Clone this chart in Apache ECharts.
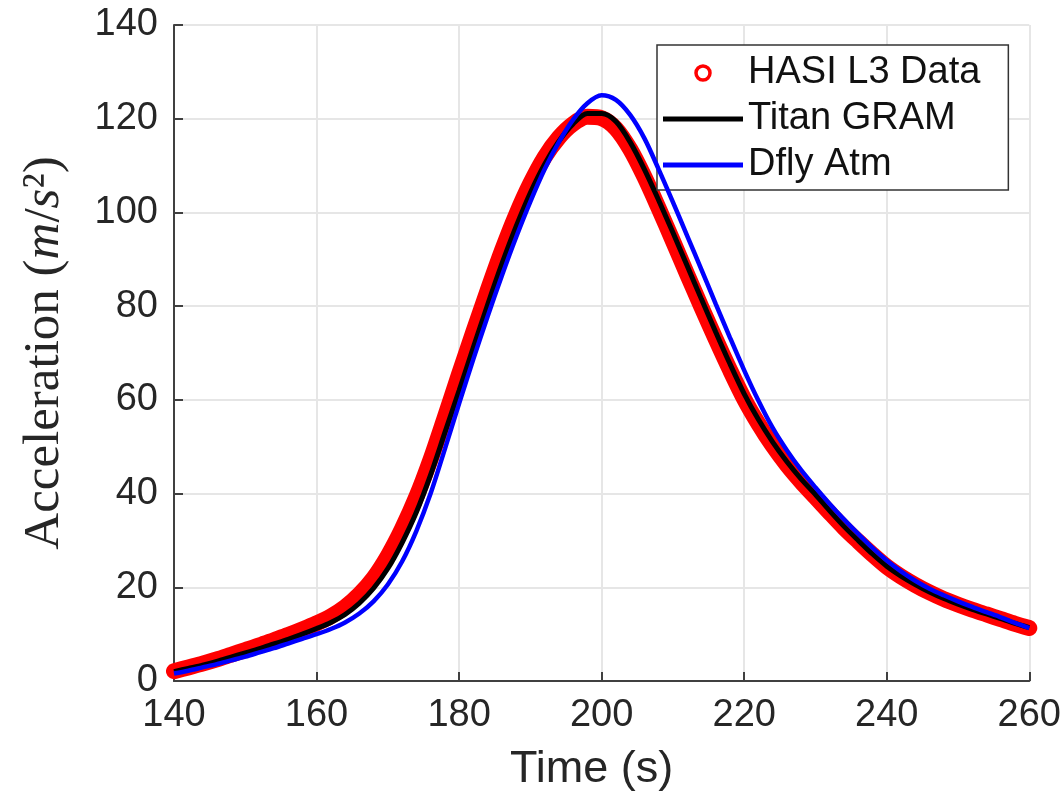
<!DOCTYPE html>
<html>
<head>
<meta charset="utf-8">
<style>
  html, body { margin: 0; padding: 0; background: #ffffff; }
  #chart { width: 1064px; height: 802px; }
</style>
<script src="https://cdn.jsdelivr.net/npm/echarts@6/dist/echarts.min.js"></script>
</head>
<body>
<div id="chart"></div>
<script>
// ---- data (every 2 s) ----
const timeS = [140,142,144,146,148,150,152,154,156,158,160,162,164,166,168,170,172,174,176,178,180,182,184,186,188,190,192,194,196,198,200,202,204,206,208,210,212,214,216,218,220,222,224,226,228,230,232,234,236,238,240,242,244,246,248,250,252,254,256,258,260];

const hasiAccel = [2.1,2.9,3.7,4.6,5.6,6.6,7.6,8.7,9.8,11.0,12.3,13.8,15.8,18.5,22.0,26.7,32.5,39.3,47.3,56.3,65.5,74.5,83.3,91.8,99.5,106.2,111.8,116.0,118.9,120.4,120.1,117.9,113.5,107.6,100.9,93.9,86.8,79.8,73.0,66.4,60.2,54.9,50.2,46.1,42.5,39.2,35.9,32.7,29.8,27.0,24.4,22.3,20.5,18.9,17.5,16.3,15.2,14.2,13.2,12.2,11.3];

const gramAccel = [2.0,2.7,3.4,4.2,5.1,6.0,6.9,7.9,8.9,10.0,11.2,12.5,14.2,16.6,19.8,24.0,29.5,36.0,44.0,53.0,62.0,71.2,80.3,89.0,97.0,104.2,110.3,115.2,118.9,121.1,121.1,119.4,115.0,109.2,102.6,95.7,88.6,81.5,74.5,67.7,61.3,55.8,51.0,46.8,43.1,39.8,36.3,33.0,30.0,27.1,24.5,22.4,20.6,19.0,17.6,16.4,15.3,14.3,13.3,12.3,11.4];

const dflyAccel = [1.6,2.2,2.9,3.6,4.4,5.2,6.1,7.0,8.0,9.0,10.0,11.1,12.5,14.4,17.0,20.6,25.5,32.0,40.0,49.5,59.2,68.7,77.8,86.5,94.7,102.3,109.2,115.0,119.8,123.3,125.0,124.0,120.8,115.8,109.2,102.2,95.0,87.8,80.5,73.3,66.3,59.8,54.0,49.2,45.0,41.3,37.8,34.5,31.4,28.4,25.7,23.4,21.4,19.7,18.3,17.0,15.8,14.7,13.6,12.4,11.3];

const seriesNames = ['HASI L3 Data', 'Titan GRAM', 'Dfly Atm'];
const xTicks = { min: 140, max: 260, step: 20 };
const yTicks = { min: 0, max: 140, step: 20 };

function pairs(xs, ys) { return xs.map((x, i) => [x, ys[i]]); }

const tickFont = 'Liberation Sans, Arial, Helvetica, sans-serif';
const serifFont = 'Liberation Serif, Times New Roman, serif';
const darkText = '#262626';
const legendLine = 'path://M0,0 L80,0 L80,5 L0,5 Z';

const chart = echarts.init(document.getElementById('chart'), null, { renderer: 'canvas' });
chart.setOption({
  animation: false,
  backgroundColor: '#ffffff',
  grid: { left: 174, right: 34, top: 25, bottom: 121, containLabel: false },
  legend: {
    orient: 'vertical',
    left: 657, top: 45,
    padding: [5, 28, 2, 6],
    itemWidth: 80, itemHeight: 14, itemGap: 0,
    backgroundColor: '#ffffff',
    borderColor: '#333333', borderWidth: 1.5, borderRadius: 0,
    textStyle: { fontFamily: tickFont, fontSize: 38, color: '#111111', lineHeight: 46 },
    data: [
      { name: seriesNames[0], icon: 'circle',
        itemStyle: { color: '#ffffff', borderColor: '#ff0000', borderWidth: 3.5 } },
      { name: seriesNames[1], icon: legendLine, itemStyle: { color: '#000000', borderWidth: 0 } },
      { name: seriesNames[2], icon: legendLine, itemStyle: { color: '#0000ff', borderWidth: 0 } }
    ]
  },
  xAxis: {
    type: 'value', min: xTicks.min, max: xTicks.max, interval: xTicks.step,
    name: 'Time (s)', nameLocation: 'middle', nameGap: 66,
    nameTextStyle: { fontFamily: tickFont, fontSize: 45, color: darkText, padding: [0, 20, 0, 0] },
    axisLine: { show: true, onZero: false, lineStyle: { color: '#404040', width: 2 } },
    axisTick: { show: true, inside: true, length: 9, lineStyle: { color: '#404040', width: 2 } },
    axisLabel: { fontFamily: tickFont, fontSize: 38, color: darkText, margin: 16 },
    splitLine: { show: true, lineStyle: { color: '#e6e6e6', width: 2 } }
  },
  yAxis: {
    type: 'value', min: yTicks.min, max: yTicks.max, interval: yTicks.step,
    name: '{n|Acceleration (}{i|m}{n|/}{i|s}{n|²)}',
    nameLocation: 'middle', nameGap: 104, nameRotate: 90,
    nameTextStyle: {
      rich: {
        n: { fontFamily: serifFont, fontSize: 51, color: darkText },
        i: { fontFamily: serifFont, fontSize: 51, fontStyle: 'italic', color: darkText }
      }
    },
    axisLine: { show: true, onZero: false, lineStyle: { color: '#404040', width: 2 } },
    axisTick: { show: true, inside: true, length: 9, lineStyle: { color: '#404040', width: 2 } },
    axisLabel: { fontFamily: tickFont, fontSize: 38, color: darkText, margin: 16 },
    splitLine: { show: true, lineStyle: { color: '#e6e6e6', width: 2 } }
  },
  series: [
    {
      name: seriesNames[0], type: 'line', data: pairs(timeS, hasiAccel),
      symbol: 'none', smooth: 0.3,
      lineStyle: { color: '#ff0000', width: 16, cap: 'round', join: 'round' },
      itemStyle: { color: '#ff0000' }, z: 2
    },
    {
      name: seriesNames[1], type: 'line', data: pairs(timeS, gramAccel),
      symbol: 'none', smooth: 0.3,
      lineStyle: { color: '#000000', width: 5 }, itemStyle: { color: '#000000' }, z: 3
    },
    {
      name: seriesNames[2], type: 'line', data: pairs(timeS, dflyAccel),
      symbol: 'none', smooth: 0.3,
      lineStyle: { color: '#0000ff', width: 4.5 }, itemStyle: { color: '#0000ff' }, z: 4
    }
  ]
});
</script>
</body>
</html>
